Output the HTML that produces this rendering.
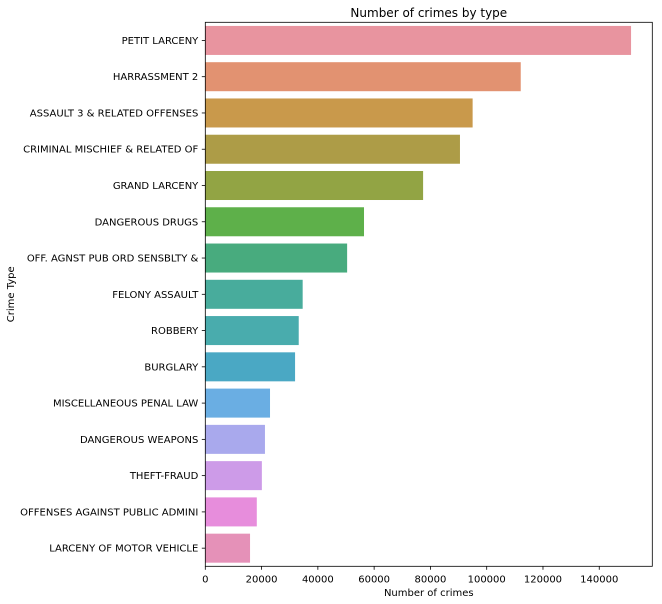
<!DOCTYPE html>
<html><head><meta charset="utf-8"><style>
body{margin:0;background:#fff;}
svg{display:block;font-family:"DejaVu Sans","Liberation Sans",sans-serif;}
</style></head><body>
<svg id="chart" width="662" height="604" xmlns="http://www.w3.org/2000/svg"></svg>
<script>
const categories=["PETIT LARCENY","HARRASSMENT 2","ASSAULT 3 & RELATED OFFENSES","CRIMINAL MISCHIEF & RELATED OF","GRAND LARCENY","DANGEROUS DRUGS","OFF. AGNST PUB ORD SENSBLTY &","FELONY ASSAULT","ROBBERY","BURGLARY","MISCELLANEOUS PENAL LAW","DANGEROUS WEAPONS","THEFT-FRAUD","OFFENSES AGAINST PUBLIC ADMINI","LARCENY OF MOTOR VEHICLE"];
const counts=[151300,112100,95000,90500,77400,56400,50400,34600,33200,31900,23000,21200,20100,18300,15900];
const colors=["#e8949f","#e29271","#c9994b","#ad9c47","#92a444","#5eb04a","#48ab7e","#48ac9c","#49acad","#4aa8c4","#6aaee3","#a9a9ed","#cd9be8","#e78ddc","#e591b8"];
const xTicks=[0,20000,40000,60000,80000,100000,120000,140000];

const svg=document.getElementById('chart');
const NS="http://www.w3.org/2000/svg";
const L=205.3,R=652.3,T=22.3,B=566.3,XMAX=158850;
const xs=v=>L+v/XMAX*(R-L);
const band=(B-T)/categories.length;
const yb=i=>T+i*band;
function mk(tag,attrs,txt){const e=document.createElementNS(NS,tag);for(const k in attrs)e.setAttribute(k,attrs[k]);if(txt!==undefined)e.textContent=txt;svg.appendChild(e);return e;}

categories.forEach((c,i)=>{
  const r=mk('rect',{x:xs(0),y:yb(i)+band*0.1,width:xs(counts[i])-xs(0),height:band*0.8,fill:colors[i]});
  
  
  const cy=yb(i)+band/2;
  const tk=mk('line',{x1:L-3.5,x2:L,y1:cy,y2:cy,stroke:'#000','stroke-width':0.8});
  
  
  const t=mk('text',{x:L-7,y:cy+3.5,'text-anchor':'end','font-size':10,fill:'#000'},c);
  
  
});
xTicks.forEach(v=>{
  const x=xs(v);
  const tk=mk('line',{x1:x,x2:x,y1:B,y2:B+3.5,stroke:'#000','stroke-width':0.8});
  
  
  const t=mk('text',{x:x,y:B+16,'text-anchor':'middle','font-size':10,fill:'#000'},String(v));
  
  
});
const frame=mk('rect',{x:L,y:T,width:R-L,height:B-T,fill:'none',stroke:'#000','stroke-width':0.8});


const title=mk('text',{x:(L+R)/2,y:17,'text-anchor':'middle','font-size':12,fill:'#000'},'Number of crimes by type');


const xt=mk('text',{x:(L+R)/2,y:596,'text-anchor':'middle','font-size':10,fill:'#000'},'Number of crimes');


const yt=mk('text',{x:14,y:(T+B)/2,'text-anchor':'middle','font-size':10,fill:'#000',transform:'rotate(-90 14 '+((T+B)/2)+')'},'Crime Type');


</script>
</body></html>
